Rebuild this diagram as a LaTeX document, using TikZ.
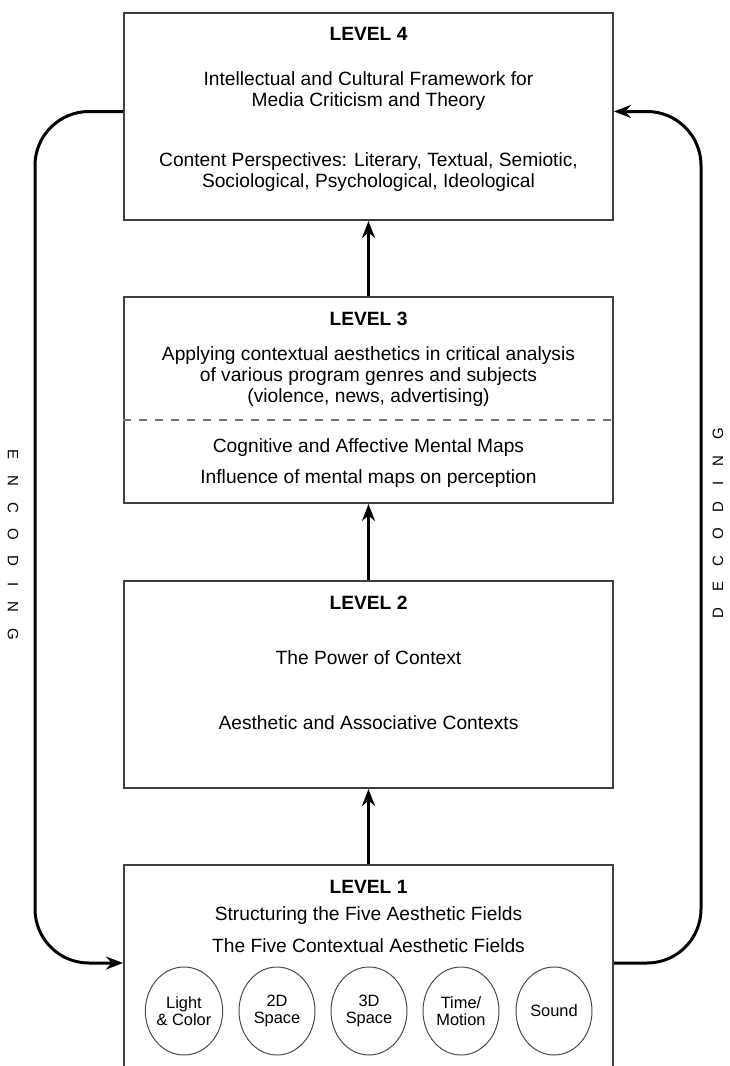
\documentclass[tikz,border=0pt]{standalone}
\usepackage{fontspec}
\setmainfont{Liberation Sans}
\newfontfamily\trackedfont[LetterSpace=104]{Liberation Sans}
\usetikzlibrary{arrows.meta,shapes.geometric}

\begin{document}
\begin{tikzpicture}[x=0.5pt, y=-0.5pt,
    levelbox/.style={draw=black!75, line width=1pt, minimum width=244.5pt, inner sep=0pt},
    txt/.style={anchor=base, inner sep=0pt, font=\fontsize{9.6}{11}\selectfont},
    levelhead/.style={anchor=base, inner sep=0pt, font=\fontsize{9.6}{11}\selectfont\bfseries},
    fieldcircle/.style={draw=black!70, line width=0.5pt, ellipse, minimum width=38pt, minimum height=44pt, inner sep=0pt, align=center, font=\fontsize{8.2}{8.5}\selectfont},
    levelarrow/.style={line width=1.5pt, -{Stealth[length=8.5pt,width=6.5pt]}},
    sidearrow/.style={levelarrow, rounded corners=27pt},
    sidelabel/.style={inner sep=0pt, font=\trackedfont\fontsize{7.5}{8}\selectfont}]
    \useasboundingbox (0,0) rectangle (729,1066);

    \node[levelbox, minimum height=103.5pt] (l4) at (368.5,116.5) {};
    \node[levelbox, minimum height=103pt] (l3) at (368.5,400) {};
    \node[levelbox, minimum height=103.5pt] (l2) at (368.5,684.5) {};
    \node[levelbox, minimum height=105pt] (l1) at (368.5,970) {};

    \node[levelhead] (t4) at (368.5,40) {LEVEL 4};
    \node[txt] (t4a) at (368.5,85) {Intellectual and Cultural Framework for};
    \node[txt] (t4b) at (368.5,106) {Media Criticism and Theory};
    \node[txt] (t4c) at (368.5,166) {Content Perspectives: Literary, Textual, Semiotic,};
    \node[txt] (t4d) at (368.5,187) {Sociological, Psychological, Ideological};

    \node[levelhead] (t3) at (368.5,325) {LEVEL 3};
    \node[txt] (t3a) at (368.5,360) {Applying contextual aesthetics in critical analysis};
    \node[txt] (t3b) at (368.5,381) {of various program genres and subjects};
    \node[txt] (t3c) at (368.5,402) {(violence, news, advertising)};
    \node[txt] (t3d) at (368.5,452) {Cognitive and Affective Mental Maps};
    \node[txt] (t3e) at (368.5,483) {Influence of mental maps on perception};
    \draw[black!55, line width=0.8pt, dash pattern=on 4pt off 4pt] ([yshift=-10pt]l3.west) -- ([yshift=-10pt]l3.east);

    \node[levelhead] (t2) at (368.5,609) {LEVEL 2};
    \node[txt] (t2a) at (368.5,664) {The Power of Context};
    \node[txt] (t2b) at (368.5,729) {Aesthetic and Associative Contexts};

    \node[levelhead] (t1) at (368.5,893) {LEVEL 1};
    \node[txt] (t1a) at (368.5,920) {Structuring the Five Aesthetic Fields};
    \node[txt] (t1b) at (368.5,952) {The Five Contextual Aesthetic Fields};
    \node[fieldcircle] (light) at (184,1011) {Light\\\& Color};
    \node[fieldcircle] (space2) at (277,1011) {2D\\Space};
    \node[fieldcircle] (space3) at (369,1011) {3D\\Space};
    \node[fieldcircle] (motion) at (461,1011) {Time/\\Motion};
    \node[fieldcircle] (sound) at (554,1011) {Sound};

    \draw[levelarrow] (l1.north) -- (l2.south);
    \draw[levelarrow] (l2.north) -- (l3.south);
    \draw[levelarrow] (l3.north) -- (l4.south);

    \coordinate (enc) at (35,963);
    \coordinate (dec) at (701,963);
    \draw[sidearrow] ([yshift=2.5pt]l4.west) -| (enc) -- ([yshift=3.5pt]l1.west);
    \draw[sidearrow] ([yshift=3.5pt]l1.east) -- (dec) |- ([yshift=2.5pt]l4.east);

    \node[sidelabel, rotate=-90] (enclabel) at (13,545) {ENCODING};
    \node[sidelabel, rotate=90] (declabel) at (718,523) {DECODING};
\end{tikzpicture}
\end{document}
